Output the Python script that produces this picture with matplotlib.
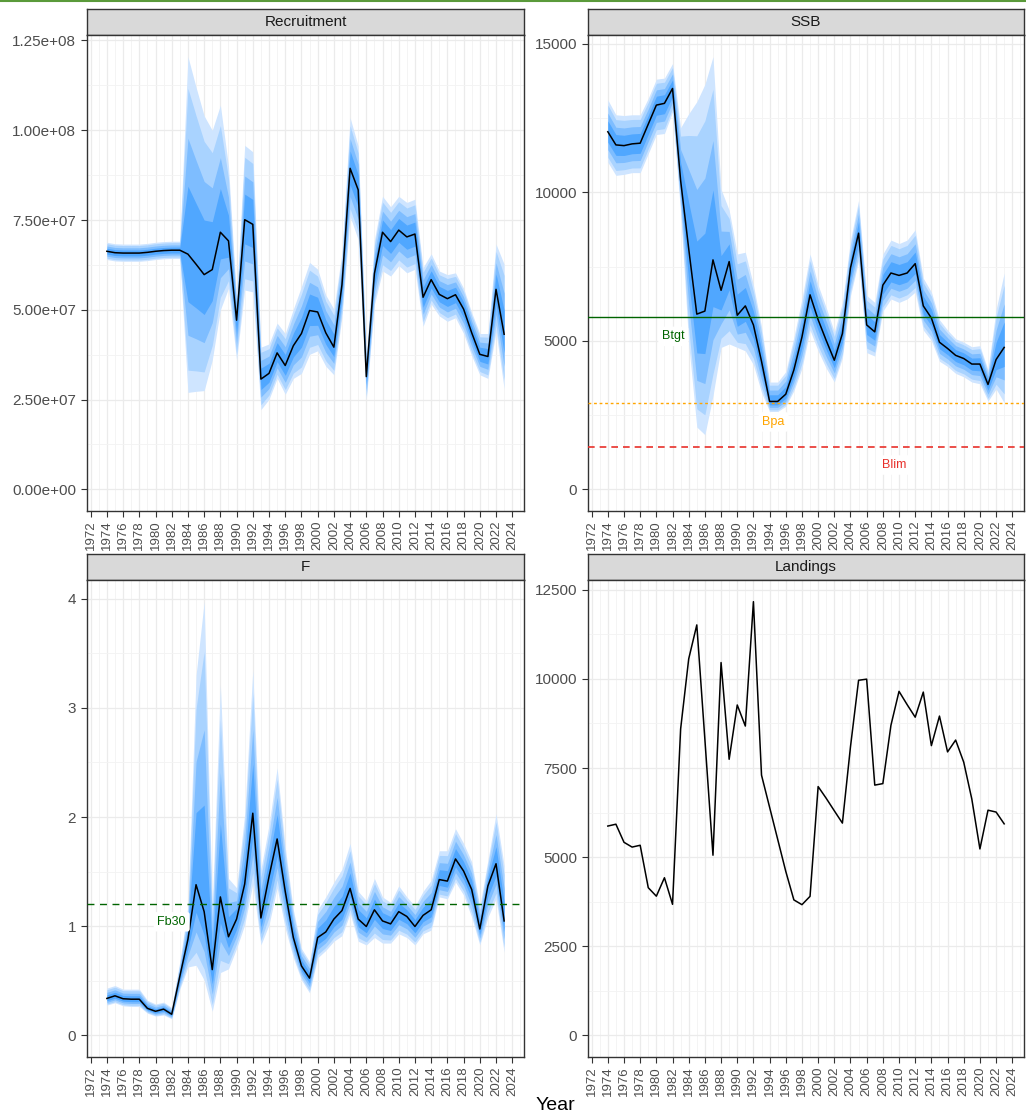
import matplotlib
matplotlib.use('Agg')
import matplotlib.pyplot as plt
from matplotlib.lines import Line2D
from matplotlib.ticker import FixedLocator, FuncFormatter
import numpy as np

plt.rcParams['font.family'] = ['Liberation Sans', 'DejaVu Sans']

years = list(range(1974, 2024))

# Recruitment (millions)
rec_med = [66.3, 65.9, 65.8, 65.8, 65.8, 66.0, 66.3, 66.5, 66.6, 66.6,
           65.5, 62.7, 59.8, 61.2, 71.6, 69.2, 47.1, 75.1, 73.8, 30.7,
           32.3, 38.0, 34.5, 40.0, 43.4, 49.8, 49.4, 43.6, 39.6, 57.0,
           89.4, 83.4, 31.4, 60.1, 71.6, 69.0, 72.2, 70.3, 71.1, 53.5,
           58.4, 54.3, 53.1, 54.2, 50.2, 43.6, 37.6, 37.0, 55.7, 43.2]
rec_lo = [64.0, 63.6, 63.5, 63.5, 63.5, 63.7, 64.0, 64.2, 64.3, 64.3,
          27.0, 27.3, 27.5, 36.0, 50.0, 56.0, 36.0, 55.5, 55.0, 22.2,
          25.1, 30.9, 26.5, 30.9, 32.3, 37.6, 38.6, 34.3, 31.9, 48.0,
          76.0, 69.5, 25.0, 51.5, 60.8, 59.4, 62.3, 60.3, 61.3, 45.4,
          51.6, 48.3, 46.8, 47.8, 43.4, 37.2, 31.9, 30.9, 43.9, 28.0]
rec_hi = [68.8, 68.4, 68.3, 68.3, 68.3, 68.5, 68.8, 69.0, 69.1, 69.1,
          120.5, 112.0, 104.0, 100.0, 107.0, 90.0, 53.0, 95.8, 94.0, 39.6,
          40.5, 46.3, 43.4, 50.2, 56.5, 63.2, 61.3, 54.1, 50.2, 66.0,
          103.5, 95.6, 36.7, 69.5, 81.6, 78.7, 81.6, 79.9, 80.8, 61.8,
          65.6, 60.8, 59.8, 60.3, 56.0, 49.2, 43.4, 43.4, 68.3, 62.7]

ssb_med = [12040, 11597, 11573, 11632, 11655, 12296, 12937, 12996, 13497, 10400,
           8100, 5900, 6002, 7727, 6702, 7669, 5862, 6177, 5536, 4312,
           2960, 2960, 3205, 4021, 5128, 6550, 5711, 5012, 4347, 5245,
           7459, 8625, 5536, 5303, 6876, 7284, 7203, 7284, 7599, 6177,
           5769, 4953, 4744, 4511, 4406, 4219, 4219, 3531, 4371, 4779]
ssb_lo = [11014, 10571, 10606, 10664, 10664, 11305, 11946, 11981, 12704, 9324,
          4895, 2098, 1841, 3147, 4779, 4895, 4779, 4662, 4196, 3263,
          2622, 2622, 2797, 3322, 4079, 5361, 4662, 4079, 3613, 4429,
          6527, 7692, 4604, 4487, 6002, 6410, 6294, 6410, 6643, 5361,
          5012, 4312, 4138, 3904, 3788, 3613, 3555, 2972, 3380, 2914]
ssb_hi = [13112, 12611, 12587, 12611, 12611, 13170, 13811, 13846, 14336, 12180,
          12646, 13054, 13636, 14569, 10100, 9400, 7925, 7984, 6876, 5478,
          3613, 3613, 3963, 5128, 6410, 7925, 6876, 6119, 5303, 6294,
          8392, 9732, 6527, 6294, 7925, 8392, 8275, 8392, 8741, 7110,
          6643, 5711, 5361, 5070, 4953, 4802, 4837, 4021, 6061, 7284]

f_med = [0.338, 0.362, 0.335, 0.331, 0.331, 0.247, 0.220, 0.240, 0.193, 0.541,
         0.879, 1.380, 1.133, 0.602, 1.268, 0.903, 1.065, 1.386, 2.035, 1.075,
         1.454, 1.799, 1.319, 0.896, 0.636, 0.524, 0.896, 0.947, 1.065, 1.143,
         1.346, 1.065, 0.997, 1.150, 1.048, 1.021, 1.133, 1.089, 0.997, 1.099,
         1.150, 1.427, 1.413, 1.616, 1.505, 1.336, 0.974, 1.369, 1.572, 1.048]
f_lo = [0.277, 0.298, 0.270, 0.264, 0.264, 0.203, 0.176, 0.186, 0.152, 0.423,
        0.626, 0.642, 0.507, 0.220, 0.575, 0.609, 0.795, 1.014, 1.386, 0.828,
        1.014, 1.352, 0.981, 0.710, 0.507, 0.389, 0.710, 0.778, 0.862, 0.913,
        1.116, 0.862, 0.828, 0.896, 0.845, 0.845, 0.930, 0.896, 0.828, 0.930,
        0.964, 1.268, 1.251, 1.403, 1.285, 1.082, 0.828, 1.082, 1.251, 0.761]
f_hi = [0.433, 0.456, 0.423, 0.423, 0.423, 0.321, 0.287, 0.304, 0.254, 0.676,
        1.183, 3.300, 3.973, 1.183, 3.212, 1.437, 1.352, 2.029, 3.347, 1.522,
        1.927, 2.451, 1.724, 1.150, 0.795, 0.676, 1.150, 1.268, 1.403, 1.522,
        1.758, 1.319, 1.234, 1.437, 1.268, 1.217, 1.369, 1.268, 1.183, 1.319,
        1.420, 1.691, 1.691, 1.893, 1.758, 1.589, 1.183, 1.606, 2.029, 1.555]

landings = [5872, 5924, 5416, 5282, 5333, 4142, 3904, 4422, 3676, 8595,
            10563, 11516, 8300, 5054, 10460, 7746, 9269, 8678, 12168, 7301,
            6400, 5500, 4600, 3800, 3666, 3900, 6980, 6650, 6300, 5955,
            8100, 9963, 9994, 7021, 7063, 8699, 9652, 9280, 8927, 9631,
            8129, 8958, 7953, 8285, 7663, 6628, 5230, 6317, 6265, 5934]

ref_ssb = {'Btgt': 5800, 'Bpa': 2900, 'Blim': 1430}
ref_f = {'Fb30': 1.2}

# fan levels (95, 90, 75, 50 %) as normal quantiles
fan_z = [1.960, 1.645, 1.150, 0.674]
fan_cols = ['#CFE5FF', '#A9D3FF', '#7EBDFF', '#50A7FF']

W, H = 1026, 1115
fig = plt.figure(figsize=(W / 100, H / 100), dpi=100)


def rect(l, t, r, b):
    return [l / W, 1 - b / H, (r - l) / W, (b - t) / H]


TXT = '#4D4D4D'
X0, X1 = 1971.55, 2025.45


def make_panel(l, t, r, b, title):
    st = fig.add_axes(rect(l, t - 26, r, t))
    st.set_facecolor('#D9D9D9')
    st.set_xticks([]); st.set_yticks([])
    for s in st.spines.values():
        s.set_color('#333333'); s.set_linewidth(1.0)
    st.text(0.5, 0.5, title, ha='center', va='center', fontsize=11, color='#1A1A1A',
            transform=st.transAxes)
    ax = fig.add_axes(rect(l, t, r, b))
    ax.set_facecolor('white')
    for s in ax.spines.values():
        s.set_color('#333333'); s.set_linewidth(1.0)
    ax.set_xlim(X0, X1)
    ax.xaxis.set_major_locator(FixedLocator(list(range(1972, 2025, 2))))
    ax.xaxis.set_minor_locator(FixedLocator(list(range(1971, 2026, 2))))
    ax.tick_params(axis='x', which='major', labelrotation=90, labelsize=9.5,
                   labelcolor=TXT, length=4, color='#333333', pad=3)
    ax.tick_params(axis='y', which='major', labelsize=11, labelcolor=TXT,
                   length=4, color='#333333', pad=4)
    ax.tick_params(which='minor', length=0)
    ax.grid(which='major', color='#EBEBEB', lw=0.9)
    ax.grid(which='minor', color='#F3F3F3', lw=0.6)
    ax.set_axisbelow(True)
    return ax


def fan(ax, med, lo, hi):
    med = np.asarray(med, float); lo = np.asarray(lo, float); hi = np.asarray(hi, float)
    for z, c in zip(fan_z, fan_cols):
        fr = z / fan_z[0]
        ax.fill_between(years, med - (med - lo) * fr, med + (hi - med) * fr,
                        color=c, lw=0, zorder=2)
    ax.plot(years, med, color='black', lw=1.1, zorder=3)


def set_y(ax, top, step):
    ax.set_ylim(-0.05 * top, 1.05 * top)
    ax.yaxis.set_major_locator(FixedLocator(list(np.arange(0, top * 1.06, step))))
    ax.yaxis.set_minor_locator(FixedLocator(list(np.arange(step / 2, top * 1.06, step))))


R1T, R1B = 35, 511
R2T, R2B = 580, 1057
C1L, C1R = 87, 524
C2L, C2R = 588, 1024

# Recruitment
ax1 = make_panel(C1L, R1T, C1R, R1B, 'Recruitment')
rm = np.array(rec_med) * 1e6; rl = np.array(rec_lo) * 1e6; rh = np.array(rec_hi) * 1e6
fan(ax1, rm, rl, rh)
set_y(ax1, rh.max(), 2.5e7)
ax1.yaxis.set_major_formatter(FuncFormatter(lambda v, p: f'{v:.2e}'))

# SSB
ax2 = make_panel(C2L, R1T, C2R, R1B, 'SSB')
fan(ax2, ssb_med, ssb_lo, ssb_hi)
set_y(ax2, max(ssb_hi), 5000)
ax2.yaxis.set_major_formatter(FuncFormatter(lambda v, p: f'{v:.0f}'))
ax2.axhline(ref_ssb['Btgt'], color='#006400', lw=1.0, zorder=4)
ax2.axhline(ref_ssb['Bpa'], color='#FFA500', lw=1.0, ls=(0, (2, 2)), zorder=4)
ax2.axhline(ref_ssb['Blim'], color='#E8302A', lw=1.2, ls=(0, (4, 3)), zorder=4)
box = dict(boxstyle='round,pad=0.3,rounding_size=0.2', fc='white', ec='none')
ax2.text(1982.1, 5150, 'Btgt', color='#006400', fontsize=9, ha='center', va='center', bbox=box, zorder=5)
ax2.text(1994.5, 2270, 'Bpa', color='#FFA500', fontsize=9, ha='center', va='center', bbox=box, zorder=5)
ax2.text(2009.4, 820, 'Blim', color='#E8302A', fontsize=9, ha='center', va='center', bbox=box, zorder=5)

# F
ax3 = make_panel(C1L, R2T, C1R, R2B, 'F')
fan(ax3, f_med, f_lo, f_hi)
set_y(ax3, max(f_hi), 1)
ax3.yaxis.set_major_formatter(FuncFormatter(lambda v, p: f'{v:.0f}'))
ax3.axhline(ref_f['Fb30'], color='#006400', lw=1.0, ls=(0, (5, 4)), zorder=4)
ax3.text(1982.0, 1.04, 'Fb30', color='#006400', fontsize=9, ha='center', va='center', bbox=box, zorder=5)

# Landings
ax4 = make_panel(C2L, R2T, C2R, R2B, 'Landings')
ax4.plot(years, landings, color='black', lw=1.1, zorder=3)
set_y(ax4, max(landings), 2500)
ax4.yaxis.set_major_formatter(FuncFormatter(lambda v, p: f'{v:.0f}'))

fig.text(555 / W, 1 - 1105 / H, 'Year', ha='center', va='center', fontsize=14, color='black')
fig.add_artist(Line2D([0, 1], [1 - 0.8 / H, 1 - 0.8 / H], transform=fig.transFigure,
                      color='#5A9A3A', lw=1.5))

fig.savefig('out.png', dpi=100)
